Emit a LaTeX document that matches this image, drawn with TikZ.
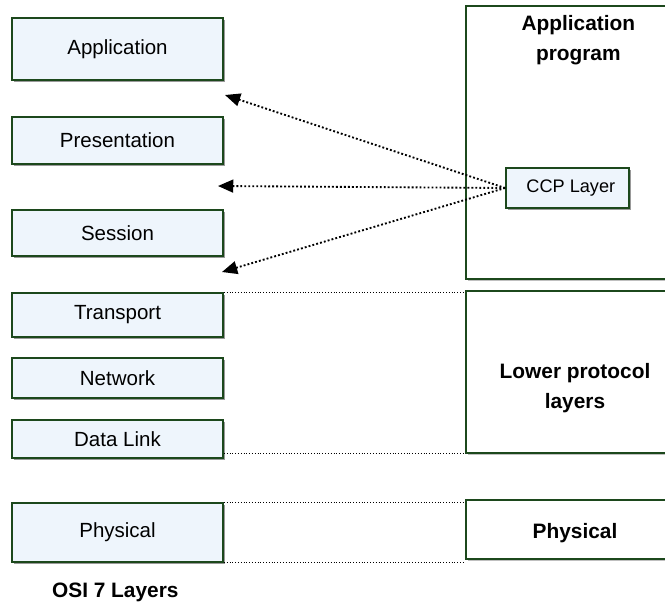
\documentclass[tikz,border=0pt]{standalone}
\usepackage{fontspec}
\setmainfont{Liberation Sans}
\usetikzlibrary{positioning, arrows.meta, shadows}
\definecolor{boxgreen}{RGB}{28,72,28}
\definecolor{boxblue}{RGB}{238,245,252}

\begin{document}
\begin{tikzpicture}[
    layer/.style={rectangle, draw=boxgreen, line width=1.5pt,
    fill=boxblue, minimum width=6.33cm, inner sep=0pt,
    font=\fontsize{17.5}{21}\selectfont,
    drop shadow={shadow xshift=1.3pt, shadow yshift=-1.3pt, fill=black!40, opacity=1}},
    stack/.style={rectangle, draw=boxgreen, line width=1.5pt,
    fill=white, minimum width=6.54cm, inner sep=0pt,
    drop shadow={shadow xshift=1.3pt, shadow yshift=-1.3pt, fill=black!25, opacity=1}},
    heading/.style={font=\fontsize{17.8}{25.5}\selectfont\bfseries, align=center},
    link/.style={dash pattern=on 1.6pt off 1.8pt, line width=1.6pt,
    -{Triangle[length=13pt, width=11pt]}},
    guide/.style={dash pattern=on 0.8pt off 1.6pt, line width=0.8pt}
    ]

    \useasboundingbox (0,0) rectangle (19.95,-18.18);
    \clip (0,0) rectangle (19.95,-18.18);

    \node[layer, minimum height=1.86cm] (app) at (3.525,-1.47) {Application};
    \node[layer, minimum height=1.41cm] (pres) at (3.525,-4.215) {Presentation};
    \node[layer, minimum height=1.38cm] (sess) at (3.525,-6.99) {Session};
    \node[layer, minimum height=1.32cm] (trans) at (3.525,-9.45) {Transport};
    \node[layer, minimum height=1.2cm] (net) at (3.525,-11.34) {Network};
    \node[layer, minimum height=1.14cm] (dlink) at (3.525,-13.17) {Data Link};
    \node[layer, minimum height=1.77cm] (phys) at (3.525,-15.975) {Physical};

    \node[heading, anchor=west] (osi) at (1.44,-17.76) {OSI 7 Layers};

    \node[stack, minimum height=8.19cm] (prog) at (17.25,-4.275) {};
    \node[heading] (progtxt) at (17.35,-1.2) {Application\\program};

    \node[layer, minimum width=3.69cm, minimum height=1.2cm,
    font=\fontsize{15.5}{18}\selectfont] (ccp) at (17.025,-5.64) {\hspace{0.2cm}CCP Layer};

    \node[stack, minimum height=4.86cm] (lower) at (17.25,-11.16) {};
    \node[heading] (lowertxt) at (17.25,-11.63) {Lower protocol\\layers};

    \node[stack, minimum height=1.77cm] (rphys) at (17.25,-15.885) {};
    \node[heading] (rphystxt) at (17.25,-16.0) {Physical};

    \coordinate (toapp) at (6.75,-2.85);
    \coordinate (topres) at (6.54,-5.58);
    \coordinate (tosess) at (6.66,-8.16);

    \draw[link] (ccp.west) -- (toapp);
    \draw[link] (ccp.west) -- (topres);
    \draw[link] (ccp.west) -- (tosess);

    \draw[guide] (trans.north east) -- (trans.north east -| lower.west);
    \draw[guide] (lower.south west -| dlink.east) -- (lower.south west);
    \draw[guide] (phys.north east) -- (phys.north east -| rphys.west);
    \draw[guide] (phys.south east) -- (phys.south east -| rphys.west);
\end{tikzpicture}
\end{document}
